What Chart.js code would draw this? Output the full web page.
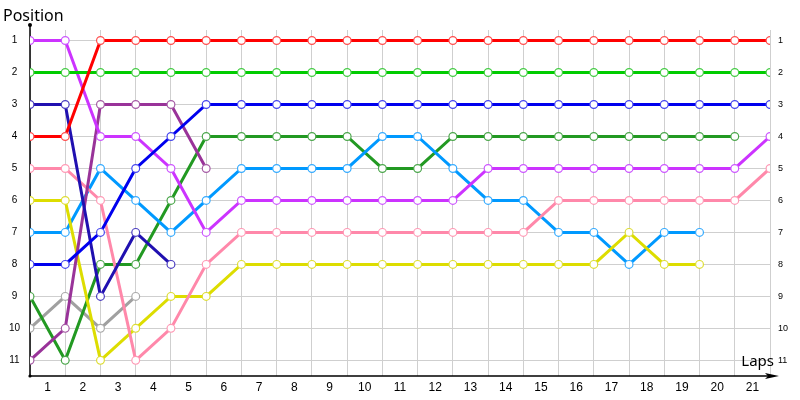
<!DOCTYPE html>
<html>
<head>
<meta charset="utf-8">
<script src="https://cdn.jsdelivr.net/npm/chart.js@4.4.1/dist/chart.umd.min.js"></script>
<style>
  html, body { margin: 0; padding: 0; background: #fff; }
  #wrap { width: 800px; height: 400px; }
</style>
</head>
<body>
<div id="wrap"><canvas id="lapChart"></canvas></div>
<script>
// lap labels sit between the grid lines, positions are read at each line
const laps = [1, 2, 3, 4, 5, 6, 7, 8, 9, 10, 11, 12, 13, 14, 15, 16, 17, 18, 19, 20, 21];
const positionTicks = [1, 2, 3, 4, 5, 6, 7, 8, 9, 10, 11];

const redCar = [4, 4, 1, 1, 1, 1, 1, 1, 1, 1, 1, 1, 1, 1, 1, 1, 1, 1, 1, 1, 1, 1];
const greenCar = [2, 2, 2, 2, 2, 2, 2, 2, 2, 2, 2, 2, 2, 2, 2, 2, 2, 2, 2, 2, 2, 2];
const blueCar = [8, 8, 7, 5, 4, 3, 3, 3, 3, 3, 3, 3, 3, 3, 3, 3, 3, 3, 3, 3, 3, 3];
const navyCar = [3, 3, 9, 7, 8];
const violetCar = [1, 1, 4, 4, 5, 7, 6, 6, 6, 6, 6, 6, 6, 5, 5, 5, 5, 5, 5, 5, 5, 4];
const plumCar = [11, 10, 3, 3, 3, 5];
const pinkCar = [5, 5, 6, 11, 10, 8, 7, 7, 7, 7, 7, 7, 7, 7, 7, 6, 6, 6, 6, 6, 6, 5];
const yellowCar = [6, 6, 11, 10, 9, 9, 8, 8, 8, 8, 8, 8, 8, 8, 8, 8, 8, 7, 8, 8];
const skyCar = [7, 7, 5, 6, 7, 6, 5, 5, 5, 5, 4, 4, 5, 6, 6, 7, 7, 8, 7, 7];
const forestCar = [9, 11, 8, 8, 6, 4, 4, 4, 4, 4, 5, 5, 4, 4, 4, 4, 4, 4, 4, 4, 4];
const greyCar = [10, 9, 10, 9];

function series(name, values, color, ringColor) {
    return {
        label: name,
        data: values.map((p, i) => ({ x: i, y: p })),
        borderColor: color,
        borderWidth: 3,
        pointRadius: 3.9,
        pointBorderWidth: 1.2,
        pointBorderColor: ringColor,
        pointBackgroundColor: '#ffffff',
        tension: 0
    };
}

const axisArrows = {
    id: 'axisArrows',
    beforeDatasetsDraw(chart) {
        const { ctx, chartArea: a } = chart;
        ctx.save();
        ctx.strokeStyle = '#000';
        ctx.fillStyle = '#000';
        ctx.lineWidth = 1.5;
        ctx.beginPath();
        ctx.moveTo(a.left, a.top - 5);
        ctx.lineTo(a.left, a.bottom);
        ctx.lineTo(a.right + 4, a.bottom);
        ctx.stroke();
        ctx.beginPath();
        ctx.arc(a.left, a.top - 5, 2, 0, Math.PI * 2);
        ctx.fill();
        ctx.beginPath();
        ctx.arc(a.left, a.bottom, 1.6, 0, Math.PI * 2);
        ctx.fill();
        ctx.beginPath();
        ctx.moveTo(a.right + 9, a.bottom);
        ctx.lineTo(a.right - 5, a.bottom - 3);
        ctx.lineTo(a.right - 2, a.bottom);
        ctx.lineTo(a.right - 5, a.bottom + 3);
        ctx.closePath();
        ctx.fill();
        ctx.restore();
    },
    afterDraw(chart) {
        const { ctx, chartArea: a } = chart;
        ctx.save();
        ctx.fillStyle = '#000';
        ctx.textBaseline = 'alphabetic';
        ctx.font = '16px "Noto Sans"';
        ctx.textAlign = 'left';
        ctx.fillText('Position', 3, 21);
        ctx.font = '15px "Noto Sans"';
        ctx.textAlign = 'right';
        ctx.fillText('Laps', a.right + 4, a.bottom - 10);
        ctx.restore();
    }
};

const ctx = document.getElementById('lapChart');

new Chart(ctx, {
    type: 'line',
    data: {
        datasets: [
            series('Red', redCar, '#ff0000', '#ff4d4d'),
            series('Green', greenCar, '#00cc00', '#44cc44'),
            series('Blue', blueCar, '#0000ee', '#4444ee'),
            series('Navy', navyCar, '#2010b0', '#4a3cc0'),
            series('Violet', violetCar, '#cc33ff', '#cc55ff'),
            series('Plum', plumCar, '#993399', '#a55aa5'),
            series('Pink', pinkCar, '#ff88aa', '#ff99b5'),
            series('Yellow', yellowCar, '#dddd00', '#dddd33'),
            series('Sky', skyCar, '#0099ff', '#33aaff'),
            series('Forest', forestCar, '#229922', '#4aa64a'),
            series('Grey', greyCar, '#a0a0a0', '#aaaaaa')
        ]
    },
    options: {
        responsive: true,
        maintainAspectRatio: false,
        animation: false,
        events: [],
        layout: { padding: { top: 30, left: 0, right: 0, bottom: 0 } },
        plugins: {
            legend: { display: false },
            tooltip: { enabled: false }
        },
        scales: {
            x: {
                type: 'linear',
                min: 0,
                max: 21,
                afterBuildTicks: function (scale) {
                    scale.ticks = laps.map((l, i) => ({ value: i + 0.5 }));
                },
                afterFit: function (scale) { scale.height = 24; },
                grid: { offset: true, drawTicks: false, color: '#cfcfcf', lineWidth: 1 },
                border: { display: false },
                ticks: {
                    autoSkip: false,
                    maxRotation: 0,
                    padding: 4,
                    color: '#000',
                    font: { family: 'Liberation Sans', size: 12 },
                    callback: function (value, index) { return String(laps[index]); }
                }
            },
            y: {
                type: 'linear',
                position: 'left',
                reverse: true,
                min: 0.67,
                max: 11.49,
                afterBuildTicks: function (scale) {
                    scale.ticks = positionTicks.map(v => ({ value: v }));
                },
                afterFit: function (scale) { scale.width = 30; },
                grid: { drawTicks: false, color: '#cfcfcf', lineWidth: 1 },
                border: { display: false },
                ticks: {
                    crossAlign: 'center',
                    padding: 10,
                    color: '#000',
                    font: { family: 'Liberation Sans', size: 10 }
                }
            },
            y2: {
                type: 'linear',
                position: 'right',
                reverse: true,
                min: 0.67,
                max: 11.49,
                afterBuildTicks: function (scale) {
                    scale.ticks = positionTicks.map(v => ({ value: v }));
                },
                afterFit: function (scale) { scale.width = 30; },
                grid: { display: false, drawTicks: false },
                border: { display: false },
                ticks: {
                    padding: 8,
                    color: '#000',
                    font: { family: 'Liberation Sans', size: 9 }
                }
            }
        }
    },
    plugins: [axisArrows]
});
</script>
</body>
</html>
